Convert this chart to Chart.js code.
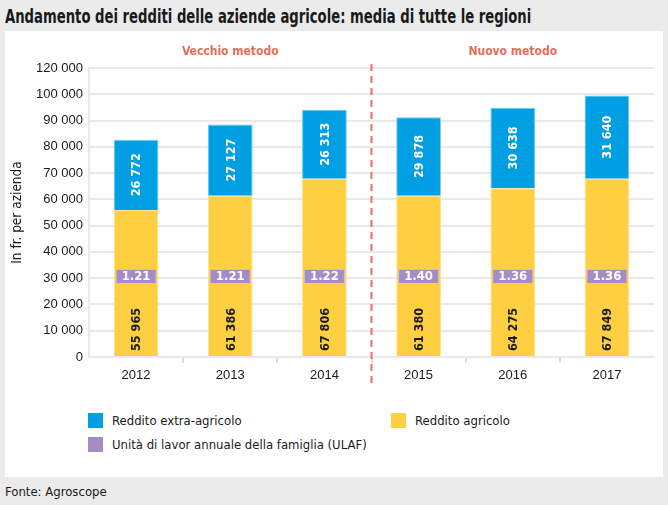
<!DOCTYPE html>
<html lang="it">
<head>
<meta charset="UTF-8">
<title>Andamento dei redditi delle aziende agricole</title>
<script src="https://cdn.jsdelivr.net/npm/chart.js"></script>
<style>
    body { margin: 0; width: 668px; height: 505px; background: #ebebeb; position: relative; overflow: hidden;
           font-family: "DejaVu Sans Condensed", "DejaVu Sans", sans-serif; color: #1a1a1a; }
    #title { position: absolute; left: 5px; top: 5px; font-size: 19px; font-weight: bold; white-space: nowrap;
             transform-origin: 0 0; }
    #panel { position: absolute; left: 5px; top: 31px; width: 658px; height: 446px; background: #fff; }
    #chart-box { position: absolute; left: 0; top: 0; width: 658px; height: 372px; }
    .legend-item { position: absolute; font-size: 13px; line-height: 16px; }
    .legend-item span { position: absolute; left: 0; top: 0; width: 15px; height: 15px; }
    .legend-item div { position: absolute; left: 24px; top: 0; white-space: nowrap; }
    #source { position: absolute; left: 5px; top: 484px; font-size: 13px; }
</style>
</head>
<body>
<div id="title">Andamento dei redditi delle aziende agricole: media di tutte le regioni</div>
<div id="panel">
    <div id="chart-box"><canvas id="chart"></canvas></div>
</div>
<div class="legend-item" style="left:88px; top:413px;"><span style="background:#009fe3"></span><div>Reddito extra-agricolo</div></div>
<div class="legend-item" style="left:391px; top:413px;"><span style="background:#fecf40"></span><div>Reddito agricolo</div></div>
<div class="legend-item" style="left:88px; top:437px;"><span style="background:#a68cc4"></span><div>Unità di lavor annuale della famiglia (ULAF)</div></div>
<div id="source">Fonte: Agroscope</div>

<script>
    // data
    const years = ['2012', '2013', '2014', '2015', '2016', '2017'];
    const redditoAgricolo = [55965, 61386, 67806, 61380, 64275, 67849];
    const redditoExtra = [26772, 27127, 26313, 29878, 30638, 31640];
    const ulaf = [1.21, 1.21, 1.22, 1.40, 1.36, 1.36];
    const yTickLabels = ['0', '10 000', '20 000', '30 000', '40 000', '50 000', '60 000',
                         '70 000', '80 000', '90 000', '100 000', '120 000'];
    const methodLabels = ['Vecchio metodo', 'Nuovo metodo'];

    const FONT = '"DejaVu Sans Condensed", "DejaVu Sans", sans-serif';
    const TICK_FONT = '"Liberation Sans", Arial, sans-serif';
    const GRID = '#e9e9e9';
    const ULAF_BAND = [28200, 33500];

    // squeeze the title to the width of the original
    const title = document.getElementById('title');
    title.style.transform = 'scaleX(' + (526 / title.scrollWidth) + ')';

    function fmt(n) {
        return String(n).replace(/\B(?=(\d{3})+(?!\d))/g, ' ');
    }

    // value labels, ULAF text, method divider
    const annotations = {
        id: 'annotations',
        afterDatasetsDraw(chart) {
            const ctx = chart.ctx;
            const area = chart.chartArea;
            const x = chart.scales.x;

            ctx.save();
            ctx.font = 'bold 12.5px ' + FONT;
            chart.getDatasetMeta(0).data.forEach((bar, i) => {
                ctx.save();
                ctx.translate(bar.x, bar.base - 5);
                ctx.rotate(-Math.PI / 2);
                ctx.fillStyle = '#1a1a1a';
                ctx.textAlign = 'left';
                ctx.textBaseline = 'middle';
                ctx.fillText(fmt(redditoAgricolo[i]), 0, 1);
                ctx.restore();
            });
            chart.getDatasetMeta(1).data.forEach((bar, i) => {
                ctx.save();
                ctx.translate(bar.x, (bar.y + bar.base) / 2);
                ctx.rotate(-Math.PI / 2);
                ctx.fillStyle = '#fff';
                ctx.textAlign = 'center';
                ctx.textBaseline = 'middle';
                ctx.fillText(fmt(redditoExtra[i]), 0, 1);
                ctx.restore();
            });
            ctx.font = 'bold 13px ' + FONT;
            chart.getDatasetMeta(2).data.forEach((bar, i) => {
                ctx.fillStyle = '#fff';
                ctx.textAlign = 'center';
                ctx.textBaseline = 'middle';
                ctx.fillText(ulaf[i].toFixed(2), bar.x, (bar.y + bar.base) / 2 + 1);
            });

            const mid = (x.getPixelForValue(2) + x.getPixelForValue(3)) / 2;
            ctx.strokeStyle = '#ea6f5e';
            ctx.lineWidth = 2;
            ctx.setLineDash([7, 5]);
            ctx.beginPath();
            ctx.moveTo(mid, area.top - 4);
            ctx.lineTo(mid, area.bottom + 28);
            ctx.stroke();

            ctx.setLineDash([]);
            ctx.fillStyle = '#ea6a55';
            ctx.font = 'bold 12px ' + FONT;
            ctx.textAlign = 'center';
            ctx.textBaseline = 'middle';
            ctx.fillText(methodLabels[0], x.getPixelForValue(1), area.top - 16);
            ctx.fillText(methodLabels[1], x.getPixelForValue(4), area.top - 16);
            ctx.restore();
        }
    };

    const chart = new Chart(document.getElementById('chart'), {
        type: 'bar',
        data: {
            labels: years,
            datasets: [
                {
                    label: 'Reddito agricolo',
                    data: redditoAgricolo,
                    backgroundColor: '#fecf40',
                    borderColor: '#ffe28a',
                    borderWidth: 1,
                    categoryPercentage: 1,
                    barPercentage: 0.475,
                    order: 2
                },
                {
                    label: 'Reddito extra-agricolo',
                    data: redditoExtra,
                    backgroundColor: '#009fe3',
                    borderColor: '#6cc8f0',
                    borderWidth: 1,
                    categoryPercentage: 1,
                    barPercentage: 0.475,
                    order: 2
                },
                {
                    label: 'Unità di lavor annuale della famiglia (ULAF)',
                    data: ulaf.map(() => ULAF_BAND),
                    stack: 'ulaf',
                    grouped: false,
                    backgroundColor: '#a68cc4',
                    borderColor: '#cbbbe0',
                    borderWidth: 1,
                    categoryPercentage: 1,
                    barPercentage: 0.435,
                    order: 1
                }
            ]
        },
        options: {
            responsive: true,
            maintainAspectRatio: false,
            animation: false,
            layout: { padding: { top: 37, right: 9, left: 0, bottom: 0 } },
            plugins: {
                legend: { display: false },
                tooltip: { enabled: false }
            },
            scales: {
                x: {
                    stacked: true,
                    grid: {
                        offset: true,
                        color: c => c.index === years.length ? GRID : 'transparent',
                        tickColor: c => (c.index > 0 && c.index < years.length) ? '#dcdcdc' : 'transparent',
                        lineWidth: 2,
                        tickLength: 6
                    },
                    border: { color: GRID, width: 2 },
                    ticks: { color: '#1a1a1a', font: { family: TICK_FONT, size: 13 }, padding: 5 },
                    afterFit: s => { s.height = 46; }
                },
                y: {
                    stacked: true,
                    min: 0,
                    max: 110000,
                    ticks: {
                        stepSize: 10000,
                        color: '#1a1a1a',
                        font: { family: TICK_FONT, size: 13 },
                        padding: 6,
                        callback: (v, i) => yTickLabels[i]
                    },
                    grid: { color: GRID, lineWidth: 2, drawTicks: false },
                    border: { color: GRID, width: 2 },
                    title: {
                        display: true,
                        text: 'In fr. per azienda',
                        color: '#1a1a1a',
                        font: { family: FONT, size: 13.5 },
                        padding: { top: 4, bottom: 4 }
                    },
                    afterFit: s => { s.width = 84; }
                }
            }
        },
        plugins: [annotations]
    });
</script>
</body>
</html>
